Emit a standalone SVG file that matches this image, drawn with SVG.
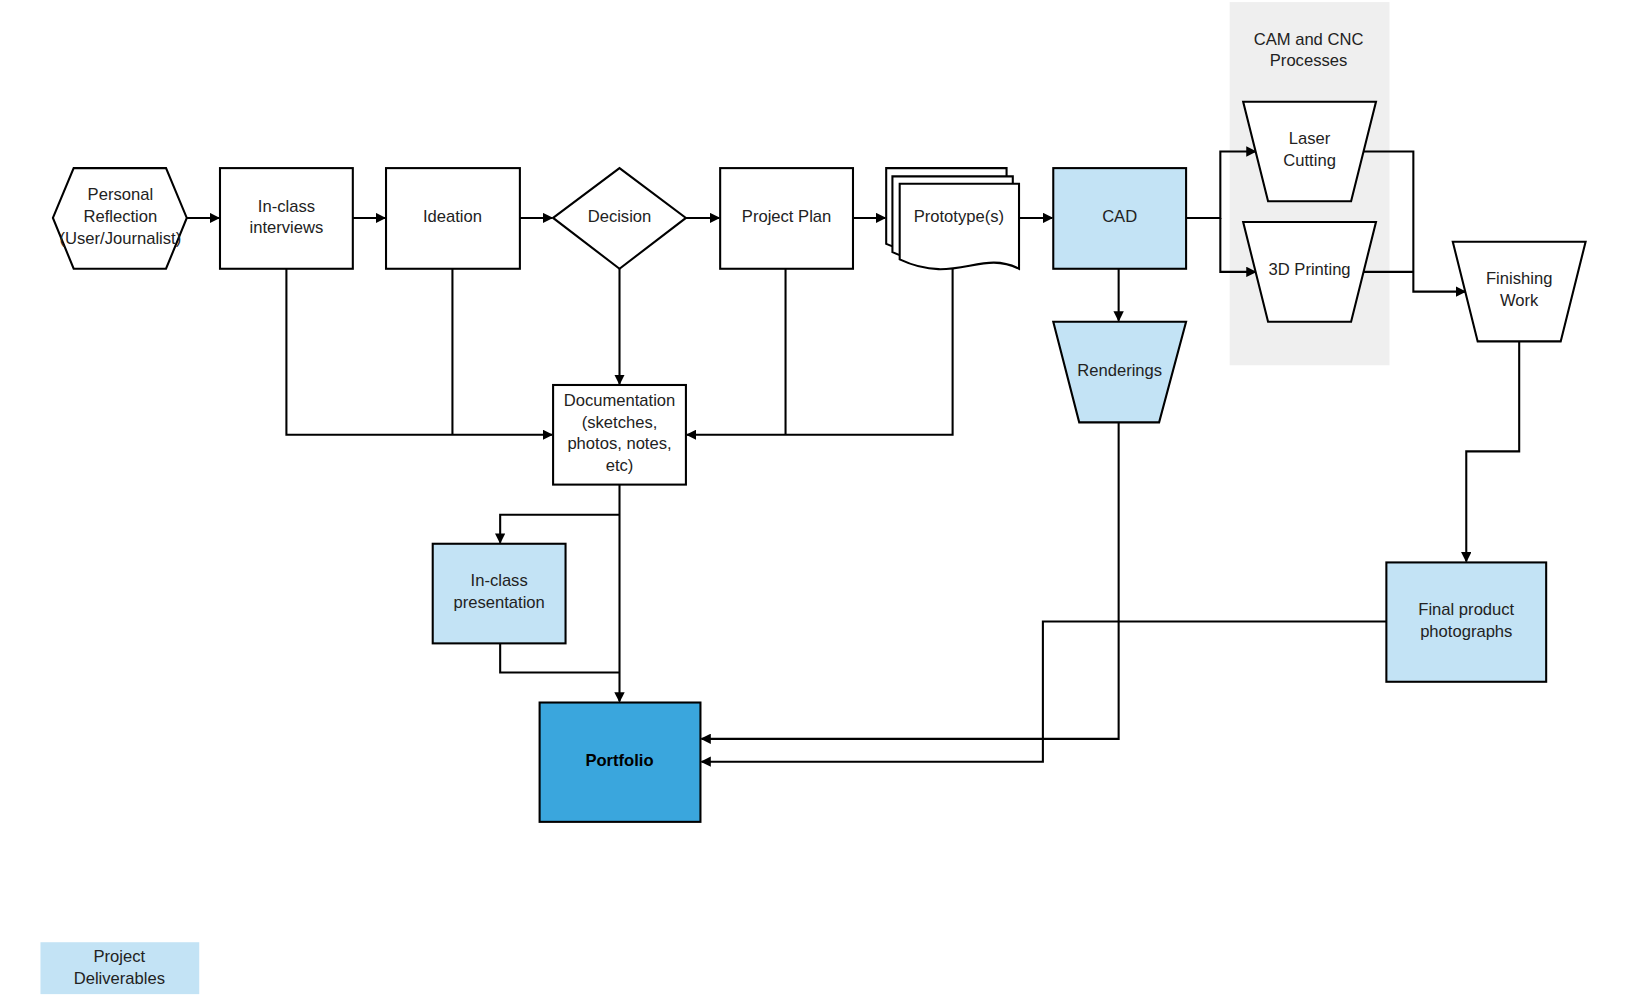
<svg xmlns="http://www.w3.org/2000/svg" width="1627" height="997" viewBox="0 0 1627 997">
<style>
.n{fill:#fff;stroke:#000;stroke-width:2}
.b{fill:#c3e3f5;stroke:#000;stroke-width:2}
.t{font-family:"Liberation Sans",Arial,sans-serif;font-size:16px;fill:#222;text-anchor:middle}
.c{fill:none;stroke:#000;stroke-width:2}
</style>
<defs><marker id="a" markerWidth="10" markerHeight="10" refX="9" refY="5" orient="auto" markerUnits="userSpaceOnUse"><path d="M0,0L10,5L0,10z" fill="#000"/></marker></defs>
<rect width="1627" height="997" fill="#fff"/>
<g transform="scale(1.0377)">
<rect x="1185" y="2" width="154" height="350" fill="#efefef"/>
<text class="t" x="1261" y="43">CAM and CNC</text><text class="t" x="1261" y="64">Processes</text>
<g id="connectors">
<path class="c" marker-end="url(#a)" d="M180,210H211"/>
<path class="c" marker-end="url(#a)" d="M340,210H371"/>
<path class="c" marker-end="url(#a)" d="M501,210H532"/>
<path class="c" marker-end="url(#a)" d="M661,210H693"/>
<path class="c" marker-end="url(#a)" d="M822,210H853"/>
<path class="c" marker-end="url(#a)" d="M982,210H1014"/>
<path class="c" marker-end="url(#a)" d="M1143,210H1176V146H1210"/>
<path class="c" marker-end="url(#a)" d="M1176,210V262H1210"/>
<path class="c" marker-end="url(#a)" d="M1312,146H1362V281H1412"/>
<path class="c" d="M1312,262H1362"/>
<path class="c" marker-end="url(#a)" d="M1078,259V309"/>
<path class="c" marker-end="url(#a)" d="M597,259V370"/>
<path class="c" marker-end="url(#a)" d="M276,259V419H532"/>
<path class="c" d="M436,259V419"/>
<path class="c" marker-end="url(#a)" d="M918,256V419H662"/>
<path class="c" d="M757,259V419"/>
<path class="c" marker-end="url(#a)" d="M597,467V676"/>
<path class="c" marker-end="url(#a)" d="M597,496H482V523"/>
<path class="c" d="M482,620V648H597"/>
<path class="c" marker-end="url(#a)" d="M1078,407V712H676"/>
<path class="c" marker-end="url(#a)" d="M1336,599H1005V734H676"/>
<path class="c" marker-end="url(#a)" d="M1464,329V435H1413V541"/>
</g>
<g id="reflection"><polygon class="n" points="51,210 71,162 160,162 180,210 160,259 71,259"/><text class="t" x="116" y="193">Personal</text><text class="t" x="116" y="214">Reflection</text><text class="t" x="116" y="235">(User/Journalist)</text></g>
<g id="interviews"><rect class="n" x="212" y="162" width="128" height="97"/><text class="t" x="276" y="204">In-class</text><text class="t" x="276" y="225">interviews</text></g>
<g id="ideation"><rect class="n" x="372" y="162" width="129" height="97"/><text class="t" x="436" y="214">Ideation</text></g>
<g id="decision"><polygon class="n" points="533,210 597,162 661,210 597,259"/><text class="t" x="597" y="214">Decision</text></g>
<g id="plan"><rect class="n" x="694" y="162" width="128" height="97"/><text class="t" x="758" y="214">Project Plan</text></g>
<g id="prototype">
<path class="n" d="M854,162H970V235C935,228 905,258 854,235Z"/>
<path class="n" d="M860,170H976V243C941,236 911,266 860,243Z"/>
<path class="n" d="M867,177H982V259C945,240 920,275 867,250Z"/>
<text class="t" x="924" y="214">Prototype(s)</text></g>
<g id="cad"><rect class="b" x="1015" y="162" width="128" height="97"/><text class="t" x="1079" y="214">CAD</text></g>
<g id="renderings"><polygon class="b" points="1015,310 1143,310 1117,407 1040,407"/><text class="t" x="1079" y="362">Renderings</text></g>
<g id="laser"><polygon class="n" points="1198,98 1326,98 1302,194 1222,194"/><text class="t" x="1262" y="139">Laser</text><text class="t" x="1262" y="160">Cutting</text></g>
<g id="printing"><polygon class="n" points="1198,214 1326,214 1302,310 1222,310"/><text class="t" x="1262" y="265">3D Printing</text></g>
<g id="finishing"><polygon class="n" points="1400,233 1528,233 1504,329 1424,329"/><text class="t" x="1464" y="274">Finishing</text><text class="t" x="1464" y="295">Work</text></g>
<g id="documentation"><rect class="n" x="533" y="371" width="128" height="96"/><text class="t" x="597" y="391">Documentation</text><text class="t" x="597" y="412">(sketches,</text><text class="t" x="597" y="433">photos, notes,</text><text class="t" x="597" y="454">etc)</text></g>
<g id="presentation"><rect class="b" x="417" y="524" width="128" height="96"/><text class="t" x="481" y="565">In-class</text><text class="t" x="481" y="586">presentation</text></g>
<g id="portfolio"><rect x="520" y="677" width="155" height="115" fill="#3aa6dd" stroke="#000" stroke-width="2"/><text class="t" x="597" y="738" style="font-weight:bold;fill:#000">Portfolio</text></g>
<g id="photographs"><rect class="b" x="1336" y="542" width="154" height="115"/><text class="t" x="1413" y="593">Final product</text><text class="t" x="1413" y="614">photographs</text></g>
<g id="legend"><rect x="39" y="908" width="153" height="50" fill="#c3e3f5"/><text class="t" x="115" y="927">Project</text><text class="t" x="115" y="948">Deliverables</text></g>
</g>
</svg>
